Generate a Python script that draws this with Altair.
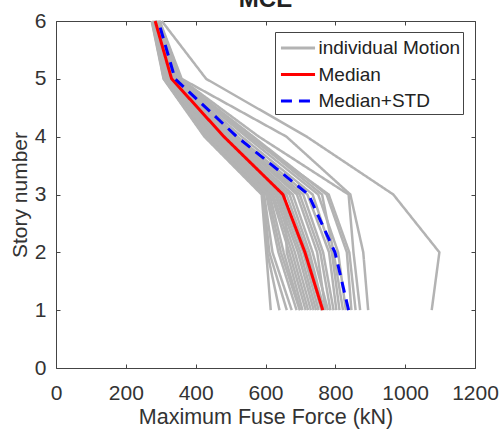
import altair as alt
import pandas as pd

# Story levels (1 = ground story, 6 = roof)
stories = [1, 2, 3, 4, 5, 6]

# Peak fuse force (kN) of each ground motion, listed per story
story_1 = [1076, 894, 871, 846, 858, 812, 830, 786, 803, 822, 795, 760, 779, 768, 764,
           730, 772, 700, 752, 745, 689, 738, 675, 715, 722, 661, 698, 706, 640, 615]
story_2 = [1098, 880, 852, 833, 840, 790, 808, 757, 782, 795, 765, 713, 735, 726, 719,
           684, 748, 652, 708, 700, 637, 693, 620, 668, 676, 611, 644, 661, 605, 602]
story_3 = [966, 843, 838, 775, 781, 735, 751, 698, 720, 762, 708, 650, 678, 669, 660,
           628, 690, 612, 644, 639, 602, 633, 596, 617, 622, 594, 607, 655, 592, 589]
story_4 = [718, 660, 581, 565, 552, 532, 545, 505, 520, 558, 512, 478, 497, 490, 486,
           465, 502, 450, 481, 474, 440, 468, 433, 455, 461, 430, 446, 485, 428, 425]
story_5 = [430, 360, 357, 352, 349, 342, 346, 335, 339, 350, 337, 329, 333, 331, 330,
           322, 334, 316, 328, 326, 313, 324, 311, 320, 321, 310, 315, 331, 309, 308]
story_6 = [303, 297, 296, 295, 293, 291, 292, 289, 290, 294, 289, 284, 287, 286, 286,
           282, 288, 280, 284, 283, 278, 283, 276, 281, 281, 276, 279, 285, 275, 274]

# Summary profiles (kN), stories 1..6
median_force = [764, 713, 650, 481, 331, 284]
median_std_force = [838, 799, 723, 518, 341, 293]

kinds = ["individual Motion", "Median", "Median+STD"]
x_ticks = [0, 200, 400, 600, 800, 1000, 1200]
y_ticks = [0, 1, 2, 3, 4, 5, 6]

per_story = [story_1, story_2, story_3, story_4, story_5, story_6]
rows = []
for m in range(len(story_1)):
    for s, vals in zip(stories, per_story):
        rows.append({"motion": f"GM{m + 1:02d}", "story": s, "force": vals[m],
                     "kind": kinds[0]})
motions_df = pd.DataFrame(rows)
median_df = pd.DataFrame({"story": stories, "force": median_force, "kind": kinds[1]})
std_df = pd.DataFrame({"story": stories, "force": median_std_force, "kind": kinds[2]})

FONT = "Liberation Sans"
TXT = "#333333"
TICK = "#444444"

x_scale = alt.Scale(domain=[0, 1200], nice=False, zero=False)
y_scale = alt.Scale(domain=[0, 6], nice=False, zero=False)

legend = alt.Legend(
    title=None, orient="none", legendX=219, legendY=11,
    symbolType="M-1.42,0H1.42", symbolSize=576, symbolStrokeWidth=3,
    symbolOffset=7, labelOffset=7, labelFontSize=19, labelFont=FONT,
    labelColor="#222222", rowPadding=2.5, padding=2.5,
    strokeColor=TICK, fillColor="white",
)
color = alt.Color("kind:N", scale=alt.Scale(domain=kinds,
                  range=["#b3b3b3", "#ff0000", "#0000ff"]), legend=legend)
dash = alt.StrokeDash("kind:N", scale=alt.Scale(domain=kinds,
                      range=[[1, 0], [1, 0], [11, 7]]), legend=legend)

x_main = alt.X("force:Q", scale=x_scale, axis=alt.Axis(
    values=x_ticks, format="d", labelOverlap=False, labelFlush=False,
    title="Maximum Fuse Force (kN)", grid=False, domain=False,
    tickSize=4, offset=-4, tickColor=TICK, labelPadding=14,
    labelFontSize=21, labelFont=FONT, labelColor=TXT,
    titleFontSize=21.5, titleFont=FONT, titleColor=TXT, titleFontWeight="normal",
    titlePadding=3))
y_main = alt.Y("story:Q", scale=y_scale, axis=alt.Axis(
    values=y_ticks, format="d", labelOverlap=False, labelFlush=False,
    title="Story number", grid=False, domain=False,
    tickSize=4, offset=-4, tickColor=TICK, labelPadding=10,
    labelFontSize=21, labelFont=FONT, labelColor=TXT,
    titleFontSize=21, titleFont=FONT, titleColor=TXT, titleFontWeight="normal",
    titlePadding=4))

order = alt.Order("story:Q")

motions = alt.Chart(motions_df).mark_line(strokeWidth=2.5).encode(
    x=x_main, y=y_main, color=color, strokeDash=dash, detail="motion:N", order=order)

median = alt.Chart(median_df).mark_line(strokeWidth=3).encode(
    x=alt.X("force:Q", axis=None), y=alt.Y("story:Q", axis=None),
    color=color, strokeDash=dash, order=order)

median_std = alt.Chart(std_df).mark_line(strokeWidth=3).encode(
    x=alt.X("force:Q", axis=None), y=alt.Y("story:Q", axis=None),
    color=color, strokeDash=dash, order=order)

# inward ticks on the top and right edges of the box
box_ticks = alt.Chart(median_df).mark_line(strokeOpacity=0).encode(
    x=alt.X("force:Q", axis=alt.Axis(orient="top", values=x_ticks, labels=False,
            title=None, grid=False, domain=False, tickSize=4, offset=-4,
            tickColor=TICK)),
    y=alt.Y("story:Q", axis=alt.Axis(orient="right", values=y_ticks, labels=False,
            title=None, grid=False, domain=False, tickSize=4, offset=-4,
            tickColor=TICK)),
    order=order)

title = alt.Chart(pd.DataFrame({"t": ["MCE"]})).mark_text(
    font=FONT, fontSize=24, fontWeight="bold", color="#222222",
    baseline="alphabetic", align="center").encode(
    text="t:N", x=alt.value(209.5), y=alt.value(-14))

chart = alt.layer(motions, median, median_std, box_ticks, title).resolve_axis(
    x="independent", y="independent"
).properties(
    width=419, height=347,
    autosize=alt.AutoSizeParams(type="none"),
    padding={"left": 56, "top": 21, "right": 26, "bottom": 67},
    background="white",
).configure_view(stroke=TICK, strokeWidth=1)

chart.save("out.html", embed_options={"renderer": "svg", "actions": False})
